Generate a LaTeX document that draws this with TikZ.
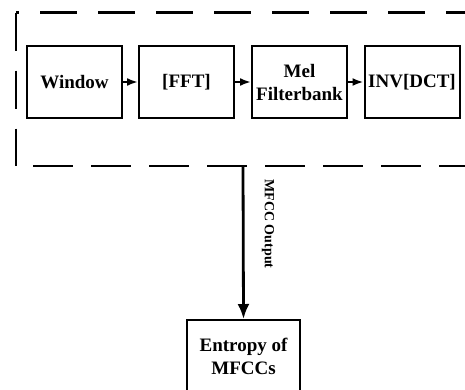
\documentclass[tikz,border=0pt]{standalone}
\usepackage{fontspec}
\setmainfont{Liberation Serif}
\usetikzlibrary{arrows.meta}
\begin{document}
\begin{tikzpicture}[x=1pt,y=-1pt,
  block/.style={draw, line width=2pt, minimum width=95pt, minimum height=72pt,
    inner sep=0pt, align=center, font=\fontsize{19}{23}\selectfont\bfseries},
  flow/.style={line width=2.2pt, -{Latex[length=11pt,width=8pt]}},
  feed/.style={line width=2.8pt, -{Latex[length=15pt,width=12pt]}},
  frame/.style={line width=2.4pt},
  tag/.style={font=\fontsize{14}{16}\selectfont\bfseries, inner sep=0pt}]
\useasboundingbox (0,0) rectangle (465,389);
\clip (0,0) rectangle (465,389);

% processing chain
\node[block] (win) at (74.5,82) {Window};
\node[block] (fft) at (186.5,82) {[FFT]};
\node[block] (mel) at (299.5,82) {Mel\\Filterbank};
\node[block] (inv) at (412,82) {INV[DCT]};

\draw[flow] (win.east) -- (fft.west);
\draw[flow] (fft.east) -- (mel.west);
\draw[flow] (mel.east) -- (inv.west);

% dashed enclosure (open to the right)
\draw[frame, dash pattern=on 37pt off 21pt, dash phase=34pt] (16,12.5) -- (470,12.5);
\draw[frame, dash pattern=on 38pt off 20pt] (16,12.5) -- (16,166);
\draw[frame, dash pattern=on 40pt off 18pt, dash phase=41pt] (16,166) -- (470,166);

% output stage
\coordinate (tap) at (243,166);
\node[block, minimum width=113pt] (ent) at (243.5,356) {Entropy of\\MFCCs};
\draw[feed] (tap) -- (ent.north);
\node[tag, rotate=-90] (lbl) at (268,224) {MFCC Output};
\end{tikzpicture}
\end{document}
